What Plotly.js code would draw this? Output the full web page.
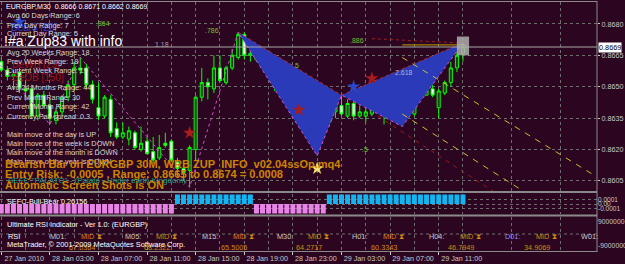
<!DOCTYPE html>
<html><head><meta charset="utf-8">
<script src="https://cdn.plot.ly/plotly-3.0.1.min.js"></script>
<style>html,body{margin:0;padding:0;background:#2c0620;}#chart{width:625px;height:264px;}</style>
</head><body><div id="chart"></div>
<script>
// ---------- DATA ----------
const tickLabels = ["27 Jan 2010","28 Jan 03:00","28 Jan 07:00","28 Jan 11:00","28 Jan 15:00","28 Jan 19:00","28 Jan 23:00","29 Jan 03:00","29 Jan 07:00","29 Jan 11:00"];
const tickBars = [0,8,16,24,32,40,48,56,64,72];

const open = [
.8662,.8658,.8655,.8657,.8649,.8649,.8636,.8646,.8641,.8634,
.8638,.8645,.8651,.8659,.8659,.8651,.8640,.8636,.8644,.8630,
.8626,.8625,.8628,.8620,.8624,.8619,.8616,.8623,.8624,.8614,
.8611,.8610,.8620,.8645,.8652,.8649,.8659,.8652,.8659,.8664,
.8675,.8665,.8667,.8664,.8659,.8656,.8650,.8656,.8656,.8651,
.8647,.8642,.8633,.8639,.8633,.8638,.8641,.8636,.8642,.8636,
.8636,.8637,.8644,.8642,.8637,.8650,.8652,.8641,.8637,.8658,
.8646,.8649,.8640,.8647,.8652,.8659,.8666];
const high = [
.8664,.8660,.8658,.8659,.8653,.8651,.8647,.8648,.8644,.8640,
.8646,.8653,.8662,.8664,.8661,.8653,.8652,.8646,.8646,.8633,
.8633,.8631,.8629,.8631,.8626,.8626,.8627,.8628,.8625,.8616,
.8615,.8622,.8646,.8659,.8654,.8665,.8665,.8660,.8668,.8676,
.8676,.8668,.8669,.8665,.8662,.8658,.8658,.8662,.8658,.8654,
.8651,.8645,.8641,.8640,.8640,.8644,.8646,.8644,.8645,.8641,
.8640,.8648,.8646,.8647,.8652,.8656,.8654,.8647,.8658,.8660,
.8651,.8651,.8649,.8653,.8662,.8667,.8671];
const low = [
.8657,.8653,.8649,.8647,.8645,.8635,.8634,.8640,.8632,.8632,
.8636,.8643,.8648,.8656,.8649,.8642,.8634,.8635,.8626,.8625,
.8625,.8622,.8620,.8619,.8618,.8613,.8615,.8621,.8614,.8607,
.8605,.8602,.8615,.8643,.8644,.8647,.8652,.8651,.8658,.8663,
.8663,.8662,.8662,.8658,.8656,.8648,.8647,.8653,.8648,.8646,
.8642,.8631,.8617,.8632,.8631,.8635,.8636,.8635,.8634,.8635,
.8633,.8636,.8640,.8632,.8635,.8645,.8631,.8638,.8636,.8645,
.8646,.8645,.8635,.8646,.8650,.8657,.8662];
const close = [
.8658,.8655,.8656,.8649,.8648,.8636,.8646,.8641,.8635,.8638,
.8645,.8651,.8659,.8658,.8651,.8644,.8636,.8645,.8628,.8626,
.8628,.8629,.8621,.8623,.8618,.8615,.8621,.8622,.8615,.8611,
.8609,.8621,.8645,.8652,.8650,.8659,.8653,.8659,.8665,.8675,
.8665,.8666,.8663,.8659,.8657,.8650,.8656,.8655,.8651,.8647,
.8643,.8633,.8639,.8634,.8638,.8641,.8637,.8642,.8636,.8638,
.8638,.8644,.8643,.8638,.8651,.8649,.8640,.8640,.8657,.8646,
.8650,.8646,.8648,.8652,.8659,.8665,.8669];

// ZUP zigzag swing points (bar index, price)
const zzBar = [-2, 8, 13, 31, 39, 52, 56, 66, 76];
const zzPrice = [.8667, .8632, .8664, .8602, .8676, .8617, .8646, .8631, .8671];

// trend / channel lines (bar index pairs, price pairs)
const chanUpBar = [66, 98], chanUpPrice = [.8664, .8607];
const chanLoBar = [66, 86], chanLoPrice = [.8637, .8600];
const redLineBar = [62, 81], redLinePrice = [.8636, .8600];
const goldBar = [66, 76.5], goldPrice = [.8670, .8670];
const topDotBar = [61, 75], topDotPrice = [.8673, .8671];

// stars
const redStarBar = [31, 49, 61], redStarPrice = [.8628, .8639, .8654];
const blueStarBar = [3, 58], blueStarPrice = [.8681, .8650];
const yellowStarBar = [52], yellowStarPrice = [.8611];

// fib labels
const fibText = [".864", "1.18", ".786", ".886", "2.618", "5", ".5"];
const fibBar = [15.2, 25, 33.2, 57, 64.5, 48, 59];
const fibPrice = [.8680, .8670, .8677, .8672, .8657, .8660, .8620];

// SEFC Bull-Bear histogram
const sefc = [
-2,-2,-2,-2,-2,-2,-2,-2,-2,-2,
-2,-2,-2,-2,-2,-2,-2,-2,-2,-2,
-2,-2,-2,-2,-2,-2,-2,-2,-2, 2,
 2, 2, 2, 2, 2, 2, 2, 2, 2, 2,
 2, 2,-2,-2,-2,-2,-2,-2,-2,-2,
-2,-2,-2,-2, 2, 2, 2, 2, 2, 2,
 2, 2, 2, 2, 2, 2, 2, 2, 2, 2,
 2, 2, 2, 2, 2, 2, 2].map(v => v * 0.0001);

// RSI panel
const rsiFrames = ["M01:", "M05:", "M15:", "M30:", "H01:", "H04:", "D01:", "W01:"];
const rsiValues = ["67.0364", "68.2322", "65.5005", "64.2717", "60.3343", "46.7949", "34.9069"];

// ---------- LAYOUT HELPERS ----------
const W = 625, H = 264;
const FONT = "Liberation Sans, Arial, sans-serif";
const SM = 7.3;
const PX = x => x / W, PY = y => 1 - y / H;
const bars = open.map((_, i) => i);
const last = close.length - 1;
const BG = "#2c0620", GRID = "#6e6e6e", AX = "#c8c8c8";

function T(text, x, y, color, size, extra) {
  return Object.assign({text, x: PX(x), y: PY(y), xref: "paper", yref: "paper",
    xanchor: "left", yanchor: "middle", showarrow: false,
    font: {family: FONT, size: size, color: color}}, extra || {});
}

const traces = [];
// Gartley XAB and BCD triangles
[[4,5,6],[6,7,8]].forEach(ix => {
  traces.push({type: "scatter", x: ix.map(k => zzBar[k]).concat([zzBar[ix[0]]]),
    y: ix.map(k => zzPrice[k]).concat([zzPrice[ix[0]]]), fill: "toself",
    fillcolor: "#2a3ab8", line: {width: 0}, mode: "lines", xaxis: "x", yaxis: "y", hoverinfo: "skip"});
  traces.push({type: "scatter", x: [zzBar[ix[0]], zzBar[ix[2]]], y: [zzPrice[ix[0]], zzPrice[ix[2]]],
    mode: "lines", line: {color: "#c02828", width: 1, dash: "dot"}, xaxis: "x", yaxis: "y"});
});
// channel lines
traces.push({type: "scatter", x: chanUpBar, y: chanUpPrice, mode: "lines", line: {color: "#c8c030", width: 1, dash: "6px,6px"}});
traces.push({type: "scatter", x: chanLoBar, y: chanLoPrice, mode: "lines", line: {color: "#c8c030", width: 1, dash: "6px,6px"}});
traces.push({type: "scatter", x: redLineBar, y: redLinePrice, mode: "lines", line: {color: "#a01818", width: 1, dash: "4px,5px"}});
traces.push({type: "scatter", x: topDotBar, y: topDotPrice, mode: "lines", line: {color: "#a02020", width: 1, dash: "dot"}});
traces.push({type: "scatter", x: goldBar, y: goldPrice, mode: "lines", line: {color: "#c0a000", width: 1}});
// candles
traces.push({type: "candlestick", x: bars, open: open, high: high, low: low, close: close,
  xaxis: "x", yaxis: "y", whiskerwidth: 0,
  increasing: {line: {color: "#00ff00", width: 1}, fillcolor: "#1a3d1a"},
  decreasing: {line: {color: "#00ff00", width: 1}, fillcolor: "#ffffff"}});
// zigzag
traces.push({type: "scatter", x: zzBar, y: zzPrice, mode: "lines", line: {color: "#d050d0", width: 1, dash: "dot"}});
// stars
traces.push({type: "scatter", x: redStarBar, y: redStarPrice, mode: "markers", marker: {symbol: "star", size: 10, color: "#a81c1c"}});
traces.push({type: "scatter", x: blueStarBar, y: blueStarPrice, mode: "markers", marker: {symbol: "star", size: 10, color: "#2848d0"}});
traces.push({type: "scatter", x: yellowStarBar, y: yellowStarPrice, mode: "markers", marker: {symbol: "star", size: 10, color: "#f0e070"}});
// SEFC bars
traces.push({type: "bar", x: bars, y: sefc, xaxis: "x", yaxis: "y2",
  marker: {color: sefc.map(v => v > 0 ? "#14b4f0" : "#e884e8"), line: {width: 0}}});

const annotations = [];
// faint pattern labels under the info text
annotations.push(T("Bear3 [22]", 9, 27, "#2a3cd0", 10));
annotations.push(T("BeWB [29]", 10, 64, "#a01818", 10));
annotations.push(T("BeOB [150]", 10, 77, "#a01818", 10));

annotations.push(T("EURGBP,M30  0.8666 0.8671 0.8662 0.8669", 4, 7, "#ffffff", 7.1));
[["Avg 60 Days Range: 6",16],["Prev Day Range: 7",25],["Current Day Range: 5",33],
 ["Avg 20 Weeks Range: 18",52],["Prev Week Range: 18",61],["Current Week Range: 19",70],
 ["Avg 24 Months Range: 44",88],["Prev Month Range: 30",97],["Current Month Range: 42",106],
 ["Currency Pair spread: 0.3",116],["Main move of the day is UP",134],["Main move of the week is DOWN",143],
 ["Main move of the month is DOWN",152],["Main move of the year is DOWN",161]]
 .forEach(r => annotations.push(T(r[0], 5, r[1], "#d8d8d8", SM)));
annotations.push(T("!#a Zup83 with info", 2, 41, "#ffffff", 14));
annotations.push(T("<b>Bearish Bar on EURGBP 30M, WRB ZUP_INFO_v02.04ssOp.mq4</b>", 3, 164, "#cc8400", 11));
annotations.push(T("<b>Entry Risk: -0.0005 , Range: 0.8665 to 0.8674 = 0.0008</b>", 3, 174, "#cc8400", 11));
annotations.push(T('SEFC "PALATO" - (Palato - Under earth Kingdom)', 6, 180, "#20a080", 8));
annotations.push(T("<b>Automatic Screen Shots is ON</b>", 3, 185, "#cc8400", 11));
fibText.forEach((t, k) => annotations.push({text: t, x: fibBar[k], y: fibPrice[k], xref: "x", yref: "y",
  xanchor: "left", yanchor: "middle", showarrow: false,
  font: {family: FONT, size: 7, color: k === 1 ? "#a0a0a0" : (k === 4 ? "#a8b4d8" : "#70c030")}}));
// price box
annotations.push({text: close[last].toFixed(4), x: PX(598), y: close[last], xref: "paper", yref: "y",
  xanchor: "left", yanchor: "middle", showarrow: false, bgcolor: "#ffffff", borderpad: 0,
  font: {family: FONT, size: SM, color: "#000000"}});
// SEFC label
annotations.push(T("SEFC-Bull-Bear 0.26156", 5, 201, "#ffffff", SM));
// RSI panel
annotations.push(T("Ultimate RSI Indicator - Ver 1.0: (EURGBP)", 5, 224, "#ffffff", SM));
annotations.push(T("RSI", 6, 236, "#ffffff", SM));
const frameX = [48, 123, 200, 275, 350, 427, 503, 579];
rsiFrames.forEach((f, k) => {
  annotations.push(T(f, frameX[k], 236, k === 6 ? "#8c8cff" : "#c8c8c8", SM));
  if (k < 7) {
    annotations.push(T("MID", frameX[k] + 31, 236, "#d08a10", SM));
    annotations.push(T("⧗", frameX[k] + 47, 236, "#d08a10", SM));
    annotations.push(T(rsiValues[k], frameX[k] + 19, 247, "#d08a10", SM));
  }
});
annotations.push(T("MetaTrader, © 2001-2009 MetaQuotes Software Corp.", 5, 244, "#ffffff", 7.4));

const shapes = [];
const line = (x0, y0, x1, y1, c, w) => ({type: "line", xref: "paper", yref: "paper",
  x0: PX(x0), y0: PY(y0), x1: PX(x1), y1: PY(y1), line: {color: c, width: w}});
shapes.push(line(0, 1.5, 597, 1.5, "#8a8a8a", 1));
shapes.push(line(0, 192, 597, 192, "#8a8a8a", 2));
shapes.push(line(0, 215.5, 597, 215.5, "#8a8a8a", 2));
shapes.push(line(0, 251.5, 597, 251.5, "#8a8a8a", 1));
shapes.push(line(597, 1, 597, 252, "#8a8a8a", 1));
// bid line
shapes.push({type: "line", xref: "paper", yref: "y", x0: 0, x1: PX(597), y0: close[last], y1: close[last],
  line: {color: "#a8a8a8", width: 1}});
// zup box at last swing
shapes.push({type: "rect", xref: "x", yref: "y", x0: zzBar[8] - 1, x1: zzBar[8] + 1,
  y0: zzPrice[8] - 0.0006, y1: zzPrice[8] + 0.0003, line: {width: 0}, fillcolor: "rgba(175,175,175,0.85)", layer: "above"});
// RSI mid dashed line
shapes.push({type: "line", xref: "paper", yref: "y3", x0: 0, x1: PX(597), y0: 0, y1: 0,
  line: {color: GRID, width: 1, dash: "3px,3px"}});

const minorVals = [];
for (let v = 4; v <= 96; v += 8) minorVals.push(v);

const layout = {
  width: W, height: H, margin: {l: 0, r: 0, t: 0, b: 0},
  paper_bgcolor: BG, plot_bgcolor: BG, showlegend: false, boxgap: 0.28, bargap: 0.18,
  font: {family: FONT, size: SM, color: AX},
  xaxis: {domain: [0, PX(597)], range: [-0.214, 98.06], anchor: "y3",
    tickmode: "array", tickvals: tickBars, ticktext: tickLabels, tickangle: 0, ticks: "outside", ticklen: 3,
    tickcolor: AX, tickfont: {family: FONT, size: 7.2, color: AX}, ticklabelshift: 23, ticklabelstandoff: -3,
    ticklabeloverflow: "allow",
    showgrid: true, gridcolor: GRID, griddash: "3px,3px", gridwidth: 1,
    minor: {tickmode: "array", tickvals: minorVals, showgrid: true, gridcolor: GRID, griddash: "3px,3px", ticks: ""},
    zeroline: false, showline: false, rangeslider: {visible: false}, fixedrange: true},
  yaxis: {domain: [PY(191), PY(2)], range: [0.86002, 0.86905], side: "right", anchor: "x",
    tickmode: "array", tickvals: [.8605, .8620, .8635, .8650, .8665, .8680], tickformat: ".4f",
    ticks: "outside", ticklen: 2, tickcolor: AX, showgrid: true, gridcolor: GRID, griddash: "3px,3px",
    zeroline: false, showline: false, tickfont: {family: FONT, size: 7.2, color: AX}},
  yaxis2: {domain: [PY(214), PY(194)], range: [-0.00021, 0.00021], side: "right", anchor: "x",
    tickmode: "array", tickvals: [0.0001, 0, -0.0001], ticktext: ["0.0001", "0.00", "-0.0001"],
    ticks: "", showgrid: true, gridcolor: GRID, griddash: "3px,3px", zeroline: false,
    tickfont: {family: FONT, size: 6.5, color: AX}},
  yaxis3: {domain: [PY(251), PY(217)], range: [-12750000, 12750000], side: "right", anchor: "x",
    tickmode: "array", tickvals: [9000000, -9000000], ticktext: ["9000000", "-9000000"],
    ticks: "", showgrid: false, zeroline: false, tickfont: {family: FONT, size: 6.8, color: AX}},
  annotations: annotations, shapes: shapes
};

Plotly.newPlot("chart", traces, layout, {staticPlot: true, displayModeBar: false});
</script></body></html>
